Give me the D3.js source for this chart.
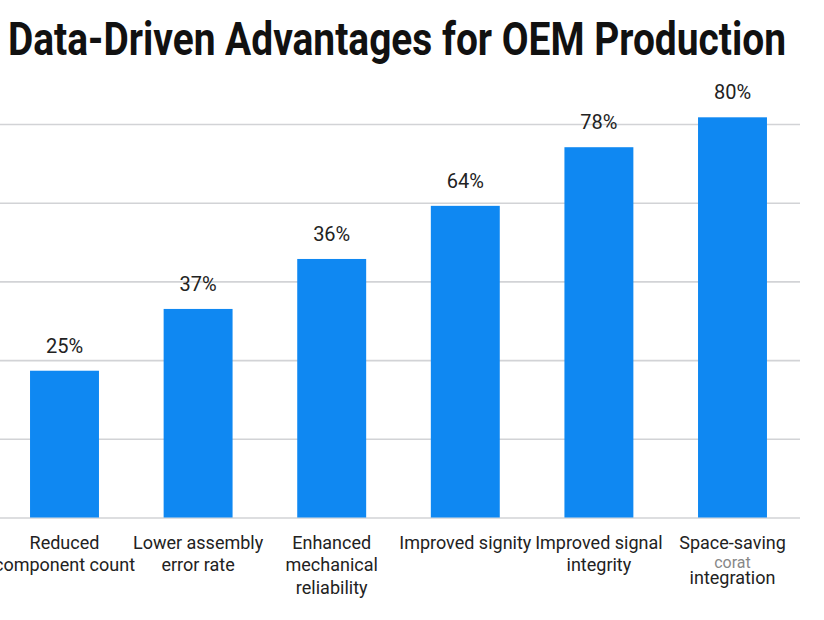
<!DOCTYPE html>
<html>
<head>
<meta charset="utf-8">
<script src="https://cdn.jsdelivr.net/npm/d3@7"></script>
<style>
  body { margin: 0; background: #fff; }
  svg { display: block; font-family: Roboto, "Noto Sans", sans-serif; }
</style>
</head>
<body>
<script>
// chart data
const categories = [
  ["Reduced", "component count"],
  ["Lower assembly", "error rate"],
  ["Enhanced", "mechanical", "reliability"],
  ["Improved signity"],
  ["Improved signal", "integrity"],
  ["Space-saving", "integration"]
]
const valueLabels = ["25%", "37%", "36%", "64%", "78%", "80%"]
// bar heights as drawn against the (unlabelled) gridlines, 0-100
const barValues = [37.3, 53.0, 65.7, 79.2, 94.1, 101.7]
const gridTicks = [0, 20, 40, 60, 80, 100]

const w = 824
const h = 620

const svg = d3.select("body")
  .append("svg")
  .attr("width", w)
  .attr("height", h)

// title
svg.append("text")
  .attr("x", 397)
  .attr("y", 55)
  .attr("text-anchor", "middle")
  .attr("font-size", 46)
  .attr("font-weight", "bold")
  .attr("fill", "#111")
  .attr("textLength", 778)
  .attr("lengthAdjust", "spacingAndGlyphs")
  .text("Data-Driven Advantages for OEM Production")

// scales
const x = d3.scaleBand()
  .domain(d3.range(categories.length))
  .range([-2.3, 799.3])
  .paddingInner(0.484)
  .paddingOuter(0.242)

const y = d3.scaleLinear()
  .domain([0, 100])
  .range([517.5, 124])

// gridlines
const grid = svg.append("g")
  .call(d3.axisLeft(y).tickValues(gridTicks).tickSize(-800).tickFormat(""))
grid.select(".domain").remove()
grid.selectAll(".tick line")
  .attr("stroke", "#d2d3d6")
  .attr("stroke-width", 1.6)

// bars
svg.selectAll("rect.bar")
  .data(barValues)
  .enter()
  .append("rect")
  .attr("class", "bar")
  .attr("x", (d, i) => x(i))
  .attr("width", x.bandwidth())
  .attr("y", d => y(d))
  .attr("height", d => y(0) - y(d))
  .attr("fill", "#0f88f2")

// value labels
svg.selectAll("text.val")
  .data(barValues)
  .enter()
  .append("text")
  .attr("class", "val")
  .attr("x", (d, i) => x(i) + x.bandwidth() / 2)
  .attr("y", d => y(d) - 18)
  .attr("text-anchor", "middle")
  .attr("font-size", 20)
  .attr("fill", "#222")
  .text((d, i) => valueLabels[i])

// category labels
const cat = svg.selectAll("text.cat")
  .data(categories)
  .enter()
  .append("text")
  .attr("class", "cat")
  .attr("text-anchor", "middle")
  .attr("font-size", 18)
  .attr("fill", "#222")
  .attr("transform", (d, i) => `translate(${x(i) + x.bandwidth() / 2}, ${y(0) + 31})`)

cat.selectAll("tspan")
  .data(d => d)
  .enter()
  .append("tspan")
  .attr("x", 0)
  .attr("y", (d, j, nodes) => {
    // last label has a gap where the garbled line sits
    const parent = nodes[j].parentNode.__data__
    if (parent[0] === "Space-saving" && j === 1) return 35
    return j * 22.5
  })
  .text(d => d)

// faint garbled line under "Space-saving"
svg.append("text")
  .attr("x", x(5) + x.bandwidth() / 2)
  .attr("y", y(0) + 50)
  .attr("text-anchor", "middle")
  .attr("font-size", 16)
  .attr("fill", "#555")
  .attr("opacity", 0.7)
  .text("corat")
</script>
</body>
</html>
